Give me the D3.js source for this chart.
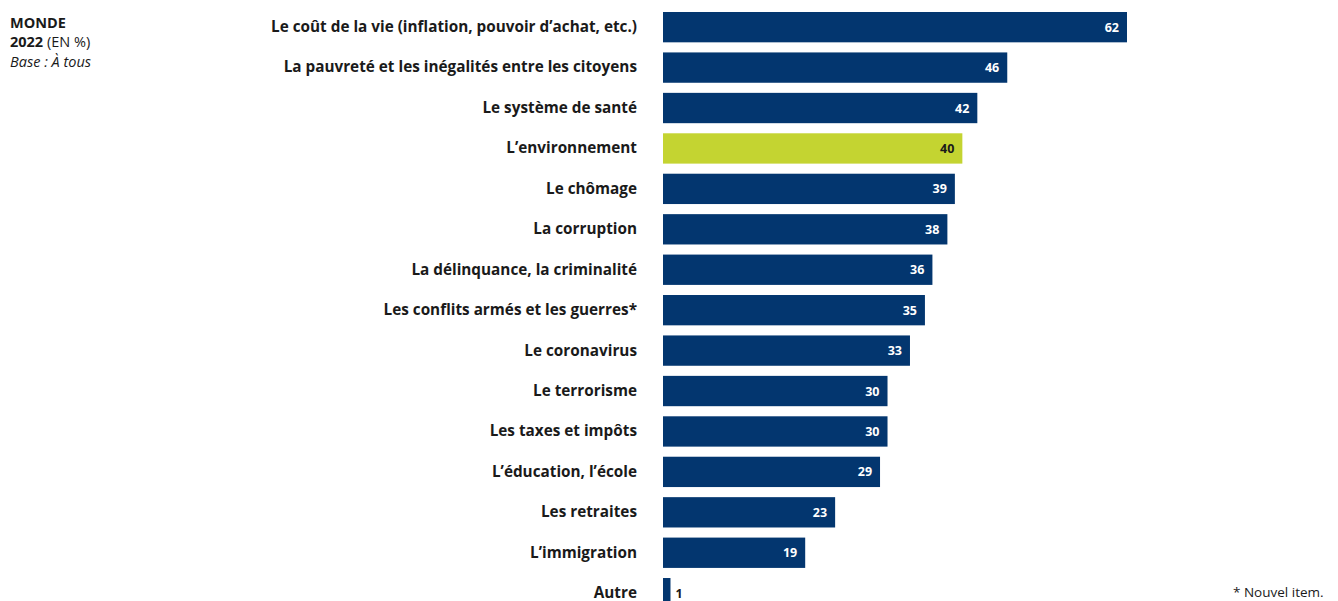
<!DOCTYPE html>
<html>
<head>
<meta charset="utf-8">
<script src="https://cdn.jsdelivr.net/npm/d3@7"></script>
<style>
  html, body { margin: 0; padding: 0; background: #fff; }
  svg { display: block; }
  text { font-family: "Open Sans", "Noto Sans", sans-serif; }
</style>
</head>
<body>
<svg id="chart" width="1338" height="601"></svg>
<script>
const categories = [
  "Le coût de la vie (inflation, pouvoir d’achat, etc.)",
  "La pauvreté et les inégalités entre les citoyens",
  "Le système de santé",
  "L’environnement",
  "Le chômage",
  "La corruption",
  "La délinquance, la criminalité",
  "Les conflits armés et les guerres*",
  "Le coronavirus",
  "Le terrorisme",
  "Les taxes et impôts",
  "L’éducation, l’école",
  "Les retraites",
  "L’immigration",
  "Autre"
];
const values = [62, 46, 42, 40, 39, 38, 36, 35, 33, 30, 30, 29, 23, 19, 1];
const highlighted = ["L’environnement"];

const data = categories.map((c, i) => ({ cat: c, val: values[i] }));

const svg = d3.select("#chart");
const NAVY = "#03366f";
const LIME = "#c4d431";

const x = d3.scaleLinear().domain([0, 62]).range([663, 1127]);
const step = 40.43;
const y = d3.scaleBand().domain(categories)
  .range([12 - step * 0.125, 12 - step * 0.125 + step * categories.length])
  .paddingInner(0.25).paddingOuter(0.125);

// Bars
svg.append("g").selectAll("rect").data(data).join("rect")
  .attr("x", x(0))
  .attr("y", d => y(d.cat))
  .attr("width", d => x(d.val) - x(0))
  .attr("height", y.bandwidth())
  .attr("fill", d => highlighted.includes(d.cat) ? LIME : NAVY);

// Category labels (axis)
const axis = d3.axisLeft(y).tickSize(0).tickPadding(0);
const gAxis = svg.append("g").attr("transform", "translate(637,0)").call(axis);
gAxis.select(".domain").remove();
gAxis.selectAll("text")
  .attr("font-family", "'Open Sans', 'Noto Sans', sans-serif")
  .attr("font-size", 15.3)
  .attr("font-weight", 700)
  .attr("fill", "#1a1a1a");

// Value labels
svg.append("g").selectAll("text").data(data).join("text")
  .attr("x", d => d.val < 5 ? x(d.val) + 5 : x(d.val) - 8)
  .attr("y", d => y(d.cat) + y.bandwidth() / 2)
  .attr("dy", "0.36em")
  .attr("text-anchor", d => d.val < 5 ? "start" : "end")
  .attr("font-size", 12.5)
  .attr("font-weight", 700)
  .attr("fill", d => d.val < 5 ? "#1a1a1a" : (highlighted.includes(d.cat) ? "#1a1a1a" : "#ffffff"))
  .text(d => d.val);

// Title block
const t = svg.append("g").attr("fill", "#1a1a1a").attr("font-size", 14.5);
t.append("text").attr("x", 10).attr("y", 28).attr("font-weight", 700).text("MONDE");
const l2 = t.append("text").attr("x", 10).attr("y", 47.3);
l2.append("tspan").attr("font-weight", 700).text("2022");
l2.append("tspan").text(" (EN %)");
t.append("text").attr("x", 10).attr("y", 66.6).attr("font-style", "italic").text("Base : À tous");

// Footnote
svg.append("text").attr("x", 1233).attr("y", 597).attr("font-size", 13.5).attr("fill", "#1a1a1a").text("* Nouvel item.");
</script>
</body>
</html>
